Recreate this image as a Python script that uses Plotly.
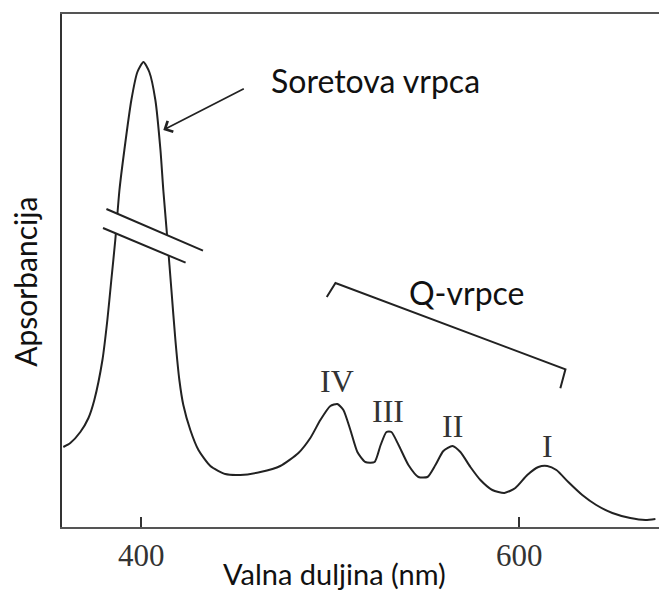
import plotly.graph_objects as go

# Spectrum (wavelength in nm, absorbance in arbitrary units)
wavelength = [358.7, 362.4, 367.7, 372.0, 375.1, 379.4, 382.0, 384.1, 386.2, 388.4,
              391.0, 394.7, 397.9, 401.1, 404.2, 407.4, 410.1, 411.6, 413.8, 415.9,
              418.0, 420.1, 422.2, 425.9, 430.2, 436.5, 444.4, 452.4, 463.0, 473.5,
              483.1, 489.4, 494.7, 500.0, 503.7, 506.9, 510.6, 514.3, 518.5, 523.4,
              526.6, 529.7, 532.3, 536.1, 541.3, 546.6, 551.4, 555.6, 559.8, 564.6,
              568.8, 574.1, 579.4, 585.7, 592.1, 597.9, 604.2, 610.1, 614.8, 619.6,
              625.9, 633.3, 640.7, 649.2, 658.7, 666.7, 672.0]
absorbance = [80, 84, 95, 109, 127, 167, 207, 247, 287, 337,
              377, 427, 455, 465, 455, 427, 377, 337, 287, 237,
              187, 147, 122, 97, 77, 61, 53, 52, 55, 61,
              74, 89, 107, 121, 123, 117, 97, 75, 65, 65,
              82, 95, 95, 82, 62, 50, 50, 62, 76, 81,
              75, 60, 47, 37, 34, 39, 52, 60, 61, 57,
              45, 32, 22, 14, 9, 7, 8]

tick_values = [400, 600]
tick_labels = ["400", "600"]
q_band_labels = ["IV", "III", "II", "I"]
q_band_x = [503.7, 530.5, 564.6, 614.8]

X_RANGE = [358, 673.9]
Y_RANGE = [0, 513]

fig = go.Figure()
fig.add_trace(go.Scatter(x=wavelength, y=absorbance, mode="lines",
                         line=dict(color="#222222", width=2, shape="spline", smoothing=0.6),
                         hoverinfo="skip", showlegend=False))

# axis break (white gap + two slashes) across the Soret band
fig.add_shape(type="path", xref="x", yref="y",
              path="M 381.5,318 L 432.6,276.3 L 423.4,264.3 L 379.7,299 Z",
              fillcolor="white", line=dict(width=0), layer="above")
for (x0, y0, x1, y1) in [(381.5, 318, 432.6, 276.3), (379.7, 299, 423.4, 264.3)]:
    fig.add_shape(type="line", xref="x", yref="y", x0=x0, y0=y0, x1=x1, y1=y1,
                  line=dict(color="#222222", width=2), layer="above")

# Q-band bracket
fig.add_shape(type="path", xref="x", yref="y",
              path="M 498.1,230 L 502.7,244 L 624.4,157.7 L 621.7,138.7",
              line=dict(color="#222222", width=2), layer="above")

annotations = [
    dict(x=411.6, y=397, xref="x", yref="y", ax=82, ay=-42, showarrow=True,
         arrowhead=4, arrowsize=1.4, arrowwidth=1.7, arrowcolor="#222222", text=""),
    dict(x=0.346, y=0.871, xref="paper", yref="paper", xanchor="left", yanchor="middle",
         text="Soretova vrpca", showarrow=False,
         font=dict(family="Lato", size=32, color="#111111")),
    dict(x=0.678, y=0.458, xref="paper", yref="paper", xanchor="center", yanchor="middle",
         text="Q-vrpce", showarrow=False,
         font=dict(family="Lato", size=32, color="#111111")),
    dict(x=0.457, y=-0.091, xref="paper", yref="paper", xanchor="center", yanchor="middle",
         text="Valna duljina (nm)", showarrow=False,
         font=dict(family="Lato", size=29, color="#111111")),
    dict(x=-0.062, y=0.478, xref="paper", yref="paper", xanchor="center", yanchor="middle",
         text="Apsorbancija", showarrow=False, textangle=-90,
         font=dict(family="Lato", size=30, color="#111111")),
]
label_y = [146, 116, 101, 81]
for lab, xv, yv in zip(q_band_labels, q_band_x, label_y):
    annotations.append(dict(x=xv, y=yv, xref="x", yref="y", text=lab, showarrow=False,
                            xanchor="center", yanchor="middle",
                            font=dict(family="Liberation Serif", size=32, color="#333333")))

# the page body adds an 8px margin, so the figure is 16px smaller than the window
fig.update_layout(
    width=651, height=583,
    margin=dict(l=54, r=0, t=6, b=64, autoexpand=False),
    plot_bgcolor="white", paper_bgcolor="white",
    annotations=annotations,
    xaxis=dict(range=X_RANGE, showgrid=False, zeroline=False, automargin=False,
               showline=True, linecolor="#555555", linewidth=2, mirror=True,
               ticks="inside", ticklen=10, tickwidth=2, tickcolor="#333333",
               tickvals=tick_values, ticktext=tick_labels,
               ticklabelstandoff=0,
               tickfont=dict(family="Liberation Serif", size=31, color="#333333")),
    yaxis=dict(range=Y_RANGE, showgrid=False, zeroline=False, automargin=False,
               showline=True, linecolor="#333333", linewidth=2,
               showticklabels=False, ticks=""),
)

fig.write_html("out.html")
